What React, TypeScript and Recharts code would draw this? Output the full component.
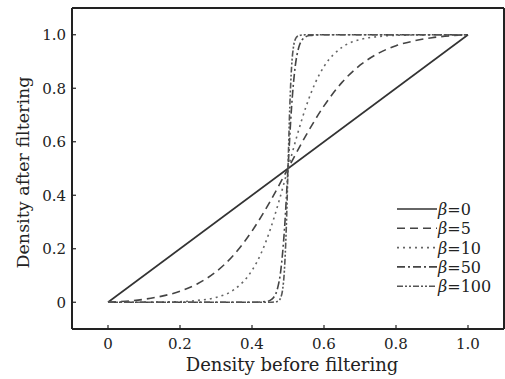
import { LineChart, Line, XAxis, YAxis, ReferenceLine } from 'recharts';

// density before filtering (x) / after filtering (y)
const xBeta0 = [0, 1];
const yBeta0 = [0, 1];

const xBeta5 = [0, 0.05, 0.1, 0.15, 0.2, 0.25, 0.3, 0.35, 0.4, 0.45, 0.5, 0.55, 0.6, 0.65, 0.7, 0.75, 0.8, 0.85, 0.9, 0.95, 1];
const yBeta5 = [0, 0.004, 0.011, 0.023, 0.041, 0.07, 0.114, 0.178, 0.266, 0.376, 0.5, 0.624, 0.734, 0.822, 0.886, 0.93, 0.959, 0.977, 0.989, 0.996, 1];

const xBeta10 = [0, 0.05, 0.1, 0.15, 0.2, 0.25, 0.3, 0.35, 0.4, 0.425, 0.45, 0.475, 0.5, 0.525, 0.55, 0.575, 0.6, 0.65, 0.7, 0.75, 0.8, 0.85, 0.9, 0.95, 1];
const yBeta10 = [0, 0, 0, 0.001, 0.002, 0.007, 0.018, 0.047, 0.119, 0.182, 0.269, 0.378, 0.5, 0.622, 0.731, 0.818, 0.881, 0.953, 0.982, 0.993, 0.998, 0.999, 1, 1, 1];

const xBeta50 = [0, 0.4, 0.44, 0.45, 0.46, 0.47, 0.48, 0.49, 0.5, 0.51, 0.52, 0.53, 0.54, 0.55, 0.56, 0.6, 1];
const yBeta50 = [0, 0, 0.003, 0.007, 0.018, 0.047, 0.119, 0.269, 0.5, 0.731, 0.881, 0.953, 0.982, 0.993, 0.997, 1, 1];

const xBeta100 = [0, 0.45, 0.47, 0.475, 0.48, 0.485, 0.49, 0.495, 0.5, 0.505, 0.51, 0.515, 0.52, 0.525, 0.53, 0.55, 1];
const yBeta100 = [0, 0, 0.003, 0.007, 0.018, 0.047, 0.119, 0.269, 0.5, 0.731, 0.881, 0.953, 0.982, 0.993, 0.997, 1, 1];

const betaLabels = ['0', '5', '10', '50', '100'];
const xTicks = [0, 0.2, 0.4, 0.6, 0.8, 1.0];
const yTicks = [0, 0.2, 0.4, 0.6, 0.8, 1.0];

const FONT = '"DejaVu Serif", "Liberation Serif", serif';
const INK = '#222';

const toPoints = (xs: number[], ys: number[]) => xs.map((x, i) => ({ x, y: ys[i] }));

const series = [
  { name: betaLabels[0], data: toPoints(xBeta0, yBeta0), dash: undefined, color: '#333' },
  { name: betaLabels[1], data: toPoints(xBeta5, yBeta5), dash: '8 5', color: '#444' },
  { name: betaLabels[2], data: toPoints(xBeta10, yBeta10), dash: '2 4', color: '#666' },
  { name: betaLabels[3], data: toPoints(xBeta50, yBeta50), dash: '8 3 2 3', color: '#444' },
  { name: betaLabels[4], data: toPoints(xBeta100, yBeta100), dash: '6 2 2 2 2 2', color: '#555' },
];

const fmt = (v: number) => (v === 0 ? '0' : v.toFixed(1));

// tickSize=1, tickMargin=0 -> the tick gets the axis position shifted by 1px outward
const XTick = ({ x, y, payload }: any) => (
  <g>
    <line x1={x} y1={y - 1} x2={x} y2={y - 5} stroke={INK} strokeWidth={1.2} />
    <text x={x} y={y + 19} textAnchor="middle" fontSize={15} fill={INK} fontFamily={FONT}>
      {fmt(payload.value)}
    </text>
  </g>
);

const YTick = ({ x, y, payload }: any) => (
  <g>
    <line x1={x + 1} y1={y} x2={x + 5} y2={y} stroke={INK} strokeWidth={1.2} />
    <text x={x - 5} y={y + 5.5} textAnchor="end" fontSize={15} fill={INK} fontFamily={FONT}>
      {fmt(payload.value)}
    </text>
  </g>
);

const LegendBox = () => (
  <svg width={108} height={100} style={{ position: 'absolute', left: 397, top: 199 }}>
    {series.map((s, i) => {
      const cy = 10 + i * 19.3;
      return (
        <g key={s.name}>
          <line x1={0} y1={cy} x2={40} y2={cy} stroke={s.color} strokeWidth={1.6} strokeDasharray={s.dash} />
          <text x={41} y={cy + 6} fontSize={16} fill={INK} fontFamily={FONT}>
            <tspan fontStyle="italic">β</tspan>={s.name}
          </text>
        </g>
      );
    })}
  </svg>
);

export default function App() {
  return (
    <div style={{ position: 'absolute', left: 0, top: 0, width: 505, height: 379, overflow: 'hidden', background: '#fff' }}>
      <LineChart width={505} height={379} margin={{ top: 8, right: 1, left: 0, bottom: 0 }}>
        <XAxis
          type="number"
          dataKey="x"
          domain={[-0.1, 1.1]}
          ticks={xTicks}
          allowDataOverflow
          height={50}
          tickSize={1}
          tickMargin={0}
          tickLine={false}
          tick={<XTick />}
          axisLine={{ stroke: INK, strokeWidth: 2 }}
          label={{
            content: ({ viewBox }: any) => (
              <text
                x={viewBox.x + viewBox.width / 2 + 4}
                y={viewBox.y + 42}
                textAnchor="middle"
                fontSize={18}
                fill={INK}
                fontFamily={FONT}
              >
                Density before filtering
              </text>
            ),
          }}
        />
        <YAxis
          type="number"
          dataKey="y"
          domain={[-0.1, 1.1]}
          ticks={yTicks}
          allowDataOverflow
          width={72}
          tickSize={1}
          tickMargin={0}
          tickLine={false}
          tick={<YTick />}
          axisLine={{ stroke: INK, strokeWidth: 2 }}
          label={{
            content: ({ viewBox }: any) => {
              const cx = 23;
              const cy = viewBox.y + viewBox.height / 2 + 4;
              return (
                <text
                  x={cx}
                  y={cy}
                  dy="0.35em"
                  transform={`rotate(-90 ${cx} ${cy})`}
                  textAnchor="middle"
                  fontSize={17.5}
                  fill={INK}
                  fontFamily={FONT}
                >
                  Density after filtering
                </text>
              );
            },
          }}
        />
        <ReferenceLine y={1.1} stroke={INK} strokeWidth={2} />
        <ReferenceLine x={1.1} stroke={INK} strokeWidth={2} />
        {series.map((s) => (
          <Line
            key={s.name}
            data={s.data}
            dataKey="y"
            name={s.name}
            type="monotone"
            stroke={s.color}
            strokeWidth={1.6}
            strokeDasharray={s.dash}
            dot={false}
            activeDot={false}
            isAnimationActive={false}
          />
        ))}
      </LineChart>
      <LegendBox />
    </div>
  );
}
